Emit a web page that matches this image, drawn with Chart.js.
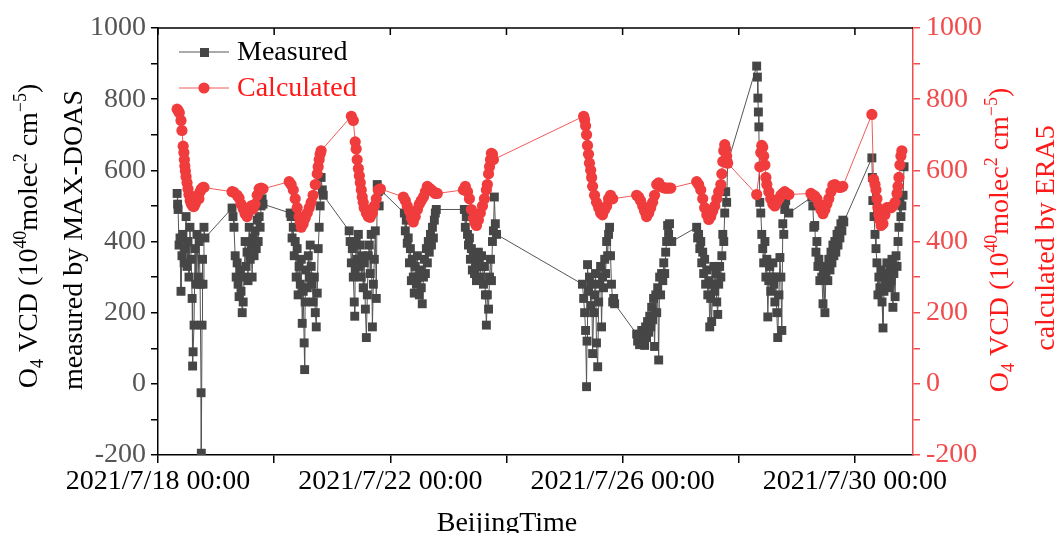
<!DOCTYPE html>
<html>
<head>
<meta charset="utf-8">
<script src="https://cdn.jsdelivr.net/npm/chart.js@4.4.0/dist/chart.umd.min.js"></script>
<style>
  body { margin: 0; background: #fff; }
  #wrap { width: 1056px; height: 533px; }
</style>
</head>
<body>
<div id="wrap"><canvas id="o4Chart"></canvas></div>
<script>
// 측정값 (MAX-DOAS) : [시각(시), 값]
const meas18 = [[7.9,535],[8.1,505],[8.3,490],[8.7,390],[9.1,410],[9.5,260],[9.9,360],[10.3,420],[10.8,340],[11.2,380],[11.6,470],[12.0,330],[12.4,400],[12.8,300],[13.2,440],[13.7,350],[14.1,240],[14.3,50],[14.5,90],[14.9,165],[15.3,380],[15.7,280],[16.1,420],[16.6,300],[17.0,400],[17.4,280],[17.8,-25],[17.9,-195],[18.2,165],[18.4,350],[18.6,280],[19.0,440],[19.4,410]];
const meas19 = [[6.6,494],[7.0,470],[7.4,440],[7.9,360],[8.3,300],[8.7,340],[9.1,280],[9.5,245],[9.9,320],[10.3,260],[10.8,200],[11.2,230],[11.6,300],[12.0,400],[12.4,330],[12.8,370],[13.2,290],[13.7,440],[14.1,350],[14.5,390],[14.9,300],[15.3,410],[15.7,360],[16.1,430],[16.6,380],[17.0,460],[17.4,400],[17.8,470],[18.2,440],[18.6,500],[19.0,520],[19.4,505]];
const meas20 = [[6.6,480],[7.0,470],[7.4,410],[7.9,440],[8.3,360],[8.7,400],[9.1,300],[9.5,380],[9.9,250],[10.3,330],[10.8,280],[11.2,350],[11.6,170],[12.0,260],[12.4,115],[12.6,40],[12.8,230],[13.2,320],[13.7,270],[14.1,360],[14.5,300],[14.9,390],[15.3,330],[15.7,280],[16.1,230],[16.6,300],[17.0,200],[17.4,160],[17.8,255],[18.2,380],[18.6,440],[19.0,500],[19.4,580],[19.9,545],[20.3,530]];
const meas21 = [[7.0,430],[7.4,400],[7.9,340],[8.3,380],[8.7,300],[9.1,230],[9.3,190],[9.5,320],[9.9,400],[10.3,350],[10.8,420],[11.2,330],[11.6,390],[12.0,300],[12.4,360],[12.8,270],[13.2,340],[13.7,210],[14.1,130],[14.5,250],[14.9,360],[15.3,390],[15.7,310],[16.1,420],[16.6,160],[17.0,280],[17.4,350],[17.8,430],[18.2,240],[18.6,560],[19.0,540],[19.4,500],[19.9,545]];
const meas22 = [[5.8,480],[6.2,430],[6.6,460],[7.0,395],[7.4,410],[7.9,340],[8.3,380],[8.7,290],[9.1,350],[9.5,300],[9.9,255],[10.3,330],[10.8,280],[11.2,360],[11.6,300],[12.0,250],[12.4,320],[12.8,270],[13.2,225],[13.7,300],[14.1,350],[14.5,310],[14.9,380],[15.3,340],[15.7,400],[16.1,370],[16.6,420],[17.0,390],[17.4,440],[17.8,410],[18.2,460],[18.6,480],[19.0,490]];
const meas23 = [[6.6,490],[7.0,440],[7.4,470],[7.9,420],[8.3,390],[8.7,410],[9.1,350],[9.5,380],[9.9,320],[10.3,360],[10.8,310],[11.2,340],[11.6,290],[12.0,330],[12.4,370],[12.8,340],[13.2,300],[13.7,360],[14.1,330],[14.5,280],[14.9,330],[15.3,250],[15.7,165],[16.1,250],[16.6,210],[17.0,300],[17.4,350],[17.8,290],[18.2,400],[18.6,430],[19.0,525],[19.4,450],[19.9,420]];
const meas25 = [[7.4,280],[7.9,240],[8.3,200],[8.7,150],[9.1,-8],[9.3,120],[9.5,335],[9.9,260],[10.3,300],[10.8,220],[11.2,280],[11.6,85],[12.0,200],[12.4,250],[12.8,310],[13.2,115],[13.7,48],[14.1,230],[14.5,280],[14.9,330],[15.3,160],[15.7,300],[16.1,270],[16.6,350],[17.0,310],[17.4,400],[17.8,360],[18.2,420],[18.6,440],[19.0,360],[19.4,280],[19.9,230],[20.3,240],[20.7,225]];
const meas26 = [[5.8,140],[6.2,120],[6.6,135],[7.0,110],[7.4,125],[7.9,150],[8.3,118],[8.7,140],[9.1,108],[9.5,160],[9.9,130],[10.3,175],[10.8,145],[11.2,190],[11.6,160],[12.0,215],[12.4,180],[12.8,240],[13.2,105],[13.7,250],[14.1,200],[14.5,270],[14.9,67],[15.3,300],[15.7,250],[16.1,310],[16.6,290],[17.0,340],[17.4,310],[17.8,370],[18.2,400],[18.6,445],[19.0,420],[19.4,450],[20.3,400]];
const meas27 = [[6.6,440],[7.0,410],[7.4,420],[7.9,380],[8.3,400],[8.7,340],[9.1,370],[9.5,310],[9.9,350],[10.3,280],[10.8,320],[11.2,250],[11.6,290],[12.0,160],[12.4,240],[12.8,175],[13.2,280],[13.7,330],[14.1,260],[14.5,310],[14.9,230],[15.3,195],[15.7,280],[16.1,330],[16.6,300],[17.0,360],[17.4,420],[17.8,400],[18.2,480],[18.6,540],[19.0,510],[19.4,620]];
const meas28 = [[7.4,893],[7.7,862],[7.9,803],[8.1,764],[8.3,722],[8.7,510],[9.1,480],[9.5,420],[9.9,380],[10.3,340],[10.8,400],[11.2,300],[11.6,350],[12.0,188],[12.4,290],[12.8,330],[13.2,260],[13.7,300],[14.1,340],[14.5,280],[14.9,230],[15.3,300],[15.7,200],[16.1,130],[16.6,250],[17.0,355],[17.4,300],[17.8,150],[18.2,450],[18.6,420],[19.0,490],[19.4,515],[20.7,480]];
const meas29 = [[6.2,525],[6.6,500],[7.0,440],[7.4,445],[7.9,370],[8.3,400],[8.7,330],[9.1,350],[9.5,290],[9.9,330],[10.3,300],[10.8,225],[11.2,310],[11.6,200],[12.0,300],[12.4,330],[12.8,290],[13.2,350],[13.7,320],[14.1,370],[14.5,340],[14.9,390],[15.3,360],[15.7,400],[16.1,370],[16.6,420],[17.0,390],[17.4,430],[17.8,410],[18.2,450],[18.6,430],[19.0,460],[19.4,455]];
const meas30 = [[7.0,635],[7.2,580],[7.4,515],[7.9,470],[8.3,420],[8.7,380],[9.1,340],[9.5,250],[9.9,300],[10.3,270],[10.8,320],[11.2,230],[11.6,157],[12.0,260],[12.4,300],[12.8,280],[13.2,340],[13.7,310],[14.1,270],[14.5,330],[14.9,290],[15.3,350],[15.7,215],[16.1,310],[16.6,245],[17.0,360],[17.4,330],[17.8,400],[18.2,440],[18.6,520],[19.0,470],[19.4,500],[19.9,530],[20.3,610]];

// 계산값 (ERA5) : [시각(시), 값]
const calc18 = [[7.9,772],[8.3,768],[8.8,762],[9.5,740],[9.9,712],[10.4,668],[10.7,650],[10.9,630],[11.1,612],[11.3,598],[11.6,582],[12.0,565],[12.4,548],[12.8,532],[13.3,515],[13.8,505],[14.3,500],[14.8,498],[15.4,506],[15.9,518],[16.4,530],[16.9,520],[17.4,540],[17.9,548],[18.6,552],[19.0,552]];
const calc19 = [[6.6,540],[7.4,538],[8.7,530],[9.5,522],[10.3,505],[11.2,492],[12.0,478],[12.8,470],[13.7,485],[14.5,500],[15.3,492],[16.1,505],[17.0,530],[17.8,548],[18.6,550],[19.4,548]];
const calc20 = [[6.2,568],[7.0,560],[7.9,545],[8.7,520],[9.5,495],[10.3,470],[10.8,455],[11.2,440],[12.0,450],[12.8,465],[13.7,480],[14.5,495],[15.3,510],[16.1,530],[17.0,560],[17.8,590],[18.2,610],[18.6,630],[19.0,645],[19.4,655]];
const calc21 = [[7.9,752],[8.7,740],[9.5,680],[9.9,660],[10.3,630],[10.8,605],[11.2,585],[11.6,565],[12.0,545],[12.4,525],[12.8,510],[13.2,495],[14.1,480],[14.9,470],[15.7,468],[16.6,480],[17.4,500],[18.2,520],[19.0,545],[19.9,548]];
const calc22 = [[5.4,525],[6.2,515],[7.0,500],[7.9,485],[8.7,465],[9.5,455],[10.3,470],[11.2,490],[12.0,505],[12.8,515],[13.7,525],[14.5,540],[15.3,555],[16.1,550],[17.0,545],[17.8,540],[18.6,535],[19.4,535]];
const calc23 = [[6.2,545],[7.0,555],[7.9,540],[8.7,520],[9.5,490],[10.3,465],[11.2,450],[11.6,445],[12.4,460],[13.2,480],[14.1,500],[14.9,520],[15.7,545],[16.1,560],[16.6,590],[17.0,610],[17.4,630],[17.8,648],[18.2,645],[18.6,630]];
const calc25 = [[7.9,752],[8.3,742],[8.7,725],[9.1,700],[9.5,670],[9.9,645],[10.3,620],[10.8,600],[11.2,580],[11.6,555],[12.4,530],[13.2,510],[14.1,495],[14.9,480],[15.7,475],[16.6,490],[17.4,500],[18.2,520],[19.0,530],[19.9,520]];
const calc26 = [[5.8,530],[6.6,525],[7.4,515],[8.3,500],[9.1,485],[9.9,470],[10.8,480],[11.6,495],[12.4,510],[13.2,530],[14.1,560],[14.9,565],[15.7,555],[16.6,552],[17.4,550],[18.2,550],[19.0,550],[19.9,550]];
const calc27 = [[6.6,568],[7.4,560],[8.3,545],[9.1,520],[9.9,495],[10.8,475],[11.6,462],[12.4,470],[13.2,485],[14.1,500],[14.9,520],[15.7,540],[16.6,560],[17.0,590],[17.4,625],[17.8,655],[18.2,672],[18.6,660],[19.0,640],[19.4,620]];
const calc28 = [[7.4,532],[8.7,610],[9.1,650],[9.5,670],[9.9,665],[10.3,640],[10.8,615],[11.2,580],[11.6,560],[12.4,540],[13.2,520],[14.1,505],[14.9,500],[15.7,510],[16.6,520],[17.4,530],[18.2,535],[19.0,540],[19.9,535],[20.7,532]];
const calc29 = [[5.8,535],[6.6,530],[7.4,528],[8.3,520],[9.1,505],[9.9,490],[10.8,478],[11.6,490],[12.4,505],[13.2,520],[14.1,540],[14.9,558],[15.7,560],[16.6,555],[17.4,552],[18.2,552],[19.0,555]];
const calc30 = [[7.0,757],[7.7,575],[8.3,560],[8.7,545],[9.1,520],[9.5,495],[9.9,475],[10.3,460],[10.8,445],[11.6,450],[12.4,475],[13.2,495],[14.1,495],[14.9,495],[15.7,500],[16.6,510],[17.4,535],[17.8,555],[18.2,580],[18.6,615],[19.0,640],[19.4,655]];

// 날짜 (7/18 기준 일수)
const measuredDays = [[0, meas18], [1, meas19], [2, meas20], [3, meas21], [4, meas22], [5, meas23],
  [7, meas25], [8, meas26], [9, meas27], [10, meas28], [11, meas29], [12, meas30]];
const calculatedDays = [[0, calc18], [1, calc19], [2, calc20], [3, calc21], [4, calc22], [5, calc23],
  [7, calc25], [8, calc26], [9, calc27], [10, calc28], [11, calc29], [12, calc30]];

// x 눈금 (7/18 00:00 부터 시간)
const xTickHours = [0, 48, 96, 144, 192, 240, 288];
const xTickLabels = ['2021/7/18 00:00', '', '2021/7/22 00:00', '', '2021/7/26 00:00', '', '2021/7/30 00:00'];

const FONT = "'Liberation Serif', 'Times New Roman', serif";
const RED = '#f03c3c';
const RED_AXIS = '#f04c4c';

function toPoints(days) {
  const pts = [];
  days.forEach(([d, arr]) => arr.forEach(([h, v]) => pts.push({ x: d * 24 + h, y: v })));
  return pts;
}

// 위/아래 첨자 텍스트
const titleTop = [['O'], ['4', 'sub'], [' VCD (10'], ['40', 'sup'], ['molec'], ['2', 'sup'], [' cm'], ['\u22125', 'sup'], [')']];

function drawRich(ctx, parts, x, y, size, color, rotate) {
  ctx.save();
  ctx.translate(x, y);
  if (rotate) ctx.rotate(-Math.PI / 2);
  ctx.fillStyle = color;
  ctx.textBaseline = 'alphabetic';
  ctx.textAlign = 'left';
  let total = 0;
  parts.forEach(p => {
    ctx.font = (p[1] ? size * 0.64 : size) + 'px ' + FONT;
    total += ctx.measureText(p[0]).width;
  });
  let cx = -total / 2;
  parts.forEach(p => {
    ctx.font = (p[1] ? size * 0.64 : size) + 'px ' + FONT;
    const dy = p[1] === 'sup' ? -size * 0.4 : p[1] === 'sub' ? size * 0.22 : 0;
    ctx.fillText(p[0], cx, dy);
    cx += ctx.measureText(p[0]).width;
  });
  ctx.restore();
}

const decorPlugin = {
  id: 'decor',
  afterDraw(chart) {
    const ctx = chart.ctx;
    const { left, right, top } = chart.chartArea;
    const xs = chart.scales.x;
    ctx.save();
    // 윗 테두리 + 안쪽 눈금
    ctx.strokeStyle = '#000';
    ctx.lineWidth = 1.5;
    ctx.beginPath();
    ctx.moveTo(left, top);
    ctx.lineTo(right, top);
    xTickHours.forEach(h => {
      const px = xs.getPixelForValue(h);
      ctx.moveTo(px, top);
      ctx.lineTo(px, top + 7);
    });
    ctx.stroke();

    // 범례
    ctx.lineWidth = 1;
    ctx.strokeStyle = '#555';
    ctx.beginPath(); ctx.moveTo(179, 52); ctx.lineTo(229, 52); ctx.stroke();
    ctx.fillStyle = '#464646';
    ctx.fillRect(200, 48, 9, 9);
    ctx.strokeStyle = '#f25a5a';
    ctx.beginPath(); ctx.moveTo(179, 88); ctx.lineTo(229, 88); ctx.stroke();
    ctx.fillStyle = RED;
    ctx.beginPath(); ctx.arc(204, 88, 5.6, 0, Math.PI * 2); ctx.fill();
    ctx.font = '28px ' + FONT;
    ctx.textBaseline = 'alphabetic';
    ctx.fillStyle = '#000';
    ctx.fillText('Measured', 237, 60);
    ctx.fillStyle = '#ff1a1a';
    ctx.fillText('Calculated', 237, 96);

    // 축 제목
    drawRich(ctx, titleTop, 37, 236, 28, '#000', true);
    drawRich(ctx, [['measured by MAX-DOAS']], 82, 240, 28, '#000', true);
    drawRich(ctx, titleTop, 1008, 240, 28, '#ff1a1a', true);
    drawRich(ctx, [['calculated by ERA5']], 1054, 238, 28, '#ff1a1a', true);
    drawRich(ctx, [['BeijingTime']], 507, 531, 28, '#000', false);
    ctx.restore();
  }
};

const ctx = document.getElementById('o4Chart').getContext('2d');
const o4Chart = new Chart(ctx, {
  type: 'line',
  data: {
    datasets: [{
      label: 'Calculated',
      data: toPoints(calculatedDays),
      yAxisID: 'y2',
      order: 1,
      borderColor: '#f25a5a',
      borderWidth: 1,
      pointStyle: 'circle',
      pointRadius: 5.6,
      pointBorderWidth: 0,
      pointBackgroundColor: RED
    }, {
      label: 'Measured',
      data: toPoints(measuredDays),
      yAxisID: 'y',
      order: 2,
      borderColor: '#555',
      borderWidth: 1,
      pointStyle: 'rect',
      pointRadius: 6.3,
      pointBorderWidth: 0,
      pointBackgroundColor: '#464646'
    }]
  },
  options: {
    responsive: true,
    maintainAspectRatio: false,
    animation: false,
    layout: { padding: { top: 28, left: 0, right: 0, bottom: 0 } },
    plugins: { legend: { display: false }, tooltip: { enabled: false } },
    scales: {
      x: {
        type: 'linear',
        min: 0,
        max: 312,
        afterBuildTicks: s => { s.ticks = xTickHours.map(v => ({ value: v })); },
        afterFit: s => { s.height = 78; },
        ticks: {
          autoSkip: false,
          maxRotation: 0,
          padding: 2,
          color: '#000',
          font: { family: FONT, size: 28 },
          callback: v => xTickLabels[xTickHours.indexOf(v)]
        },
        grid: { drawOnChartArea: false, tickLength: 8, color: '#000', lineWidth: 1.5 },
        border: { color: '#000', width: 1.5 }
      },
      y: {
        position: 'left',
        min: -200,
        max: 1000,
        afterFit: s => { s.width = 158; },
        ticks: {
          stepSize: 100,
          autoSkip: false,
          padding: 5,
          color: '#555',
          font: { family: FONT, size: 28 },
          callback: v => (v % 200 === 0 ? v : '')
        },
        grid: { drawOnChartArea: false, tickLength: 7, color: '#000', lineWidth: 1.5 },
        border: { color: '#000', width: 1.5 }
      },
      y2: {
        position: 'right',
        min: -200,
        max: 1000,
        afterFit: s => { s.width = 143; },
        ticks: {
          stepSize: 100,
          autoSkip: false,
          padding: 6,
          color: RED_AXIS,
          font: { family: FONT, size: 28 },
          callback: v => (v % 200 === 0 ? v : '')
        },
        grid: { drawOnChartArea: false, tickLength: 7, color: RED_AXIS, lineWidth: 1.5 },
        border: { color: RED_AXIS, width: 1.5 }
      }
    }
  },
  plugins: [decorPlugin]
});
</script>
</body>
</html>
